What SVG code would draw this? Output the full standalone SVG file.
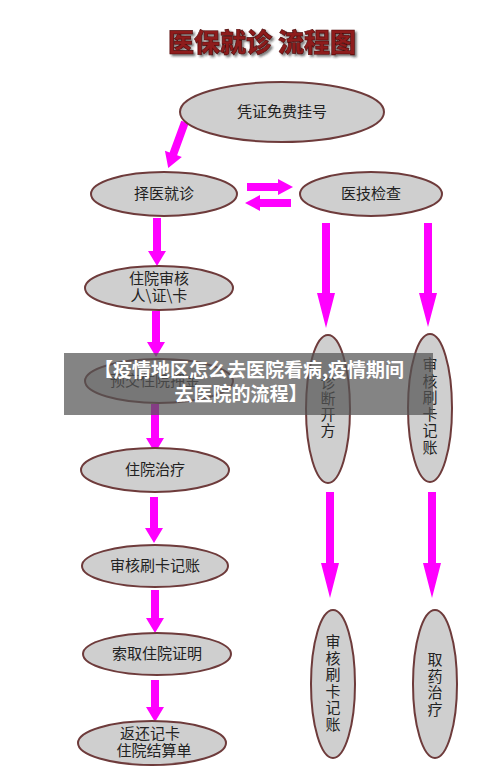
<svg xmlns="http://www.w3.org/2000/svg" width="500" height="769" viewBox="0 0 500 769">
<defs>
<filter id="sh" x="-10%" y="-30%" width="120%" height="160%"><feDropShadow dx="2" dy="2" stdDeviation="1.2" flood-color="#222" flood-opacity="0.6"/></filter>
</defs>
<style>
.n ellipse{fill:#cfcfcf;stroke:#6e3b3b;stroke-width:2}
.n text{font-family:"Noto Sans CJK SC","Liberation Serif",serif;font-size:15px;fill:#222;text-anchor:middle}
.a{fill:#ff00ff}
.title{font-family:"Noto Sans CJK SC",sans-serif;font-size:26px;font-weight:900;text-anchor:middle}
.ban{font-family:"Noto Sans CJK SC",sans-serif;font-size:19px;font-weight:bold;fill:#fff;text-anchor:middle}
</style>
<rect width="500" height="769" fill="#fff"/>
<g id="title">
<text class="title" x="262" y="52" fill="#8e1a1a" stroke="#4a0a0a" stroke-width="0.6" filter="url(#sh)">医保就诊 流程图</text>
</g>
<g id="connectors" class="a">
<g transform="translate(185,122) rotate(20)"><polygon points="-4,0 4,0 4,34 9,34 0,49 -9,34 -4,34"/></g>
<polygon points="247,183 278,183 278,179 293,187 278,195 278,191 247,191"/>
<polygon points="291,199 260,199 260,195 245,203 260,211 260,207 291,207"/>
<polygon points="153,218 161,218 161,251 166,251 157,266 148,251 153,251"/>
<polygon points="152,311 160,311 160,342 165,342 156,357 147,342 152,342"/>
<polygon points="151,404 159,404 159,438 164,438 155,453 146,438 151,438"/>
<polygon points="150,497 158,497 158,528 163,528 154,543 145,528 150,528"/>
<polygon points="151,590 159,590 159,618 164,618 155,633 146,618 151,618"/>
<polygon points="151,680 159,680 159,707 164,707 155,722 146,707 151,707"/>
<polygon points="322,223 330,223 330,293 335,293 326,328 317,293 322,293"/>
<polygon points="424,223 432,223 432,293 437,293 428,327 419,293 424,293"/>
<polygon points="326,492 334,492 334,563 339,563 330,598 321,563 326,563"/>
<polygon points="428,492 436,492 436,563 441,563 432,598 423,563 428,563"/>
</g>
<g id="n1" class="n"><ellipse cx="282" cy="112" rx="102" ry="30"/><text x="282" y="117">凭证免费挂号</text></g>
<g id="n2" class="n"><ellipse cx="164" cy="194" rx="73" ry="22"/><text x="164" y="199">择医就诊</text></g>
<g id="n3" class="n"><ellipse cx="371" cy="194" rx="71" ry="22"/><text x="371" y="199">医技检查</text></g>
<g id="n4" class="n"><ellipse cx="159" cy="288" rx="74" ry="22"/><text x="159" y="284">住院审核</text><text x="159" y="301">人\证\卡</text></g>
<g id="n5" class="n"><ellipse cx="159" cy="381" rx="74" ry="22"/><text x="155" y="386">预交住院押金</text></g>
<g id="n6" class="n"><ellipse cx="155" cy="470" rx="74" ry="22"/><text x="155" y="475">住院治疗</text></g>
<g id="n7" class="n"><ellipse cx="155" cy="566" rx="73" ry="21"/><text x="155" y="571">审核刷卡记账</text></g>
<g id="n8" class="n"><ellipse cx="157" cy="654" rx="74" ry="21"/><text x="157" y="659">索取住院证明</text></g>
<g id="n9" class="n"><ellipse cx="152" cy="743" rx="74" ry="22"/><text x="150" y="739">返还记卡</text><text x="154" y="756">住院结算单</text></g>
<g id="n10" class="n"><ellipse cx="328" cy="409" rx="22" ry="74"/><text x="328" y="388">诊<tspan x="328" dy="16">断</tspan><tspan x="328" dy="16">开</tspan><tspan x="328" dy="16">方</tspan></text></g>
<g id="n11" class="n"><ellipse cx="430" cy="408" rx="22" ry="74"/><text x="430" y="370">审<tspan x="430" dy="16.5">核</tspan><tspan x="430" dy="16.5">刷</tspan><tspan x="430" dy="16.5">卡</tspan><tspan x="430" dy="16.5">记</tspan><tspan x="430" dy="16.5">账</tspan></text></g>
<g id="n12" class="n"><ellipse cx="333" cy="684" rx="22" ry="74"/><text x="333" y="647">审<tspan x="333" dy="16.5">核</tspan><tspan x="333" dy="16.5">刷</tspan><tspan x="333" dy="16.5">卡</tspan><tspan x="333" dy="16.5">记</tspan><tspan x="333" dy="16.5">账</tspan></text></g>
<g id="n13" class="n"><ellipse cx="435" cy="684" rx="22" ry="74"/><text x="435" y="665">取<tspan x="435" dy="16.5">药</tspan><tspan x="435" dy="16.5">治</tspan><tspan x="435" dy="16.5">疗</tspan></text></g>
<g id="banner">
<rect x="64" y="353" width="369" height="62" fill="#555" opacity="0.72"/>
<text class="ban" x="249" y="377">【疫情地区怎么去医院看病,疫情期间</text>
<text class="ban" x="241" y="401">去医院的流程】</text>
</g>
</svg>
